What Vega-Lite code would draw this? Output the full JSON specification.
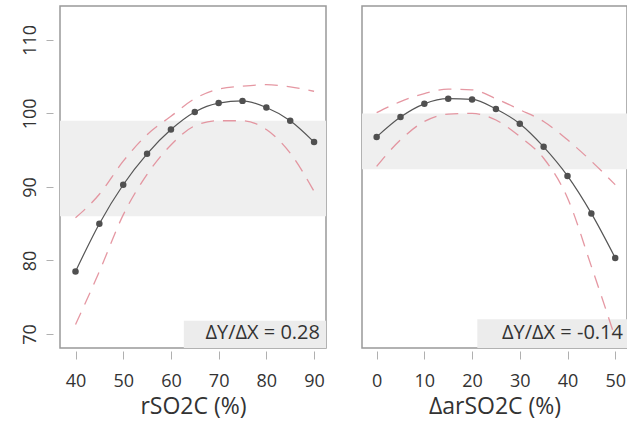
{
  "$schema": "https://vega.github.io/schema/vega-lite/v6.json",
  "padding": {"left": 20, "top": 5, "right": 0, "bottom": 0},
  "background": "white",
  "spacing": 34,
  "config": {
    "view": {"stroke": "#999999", "strokeWidth": 1.5},
    "axis": {
      "domain": false,
      "grid": false,
      "tickColor": "#b0b0b0",
      "tickWidth": 1,
      "labelColor": "#333333",
      "labelFont": "Open Sans",
      "labelFontSize": 18,
      "titleFont": "Open Sans",
      "titleFontSize": 23,
      "titleFontWeight": "normal",
      "titleColor": "#333333"
    }
  },
  "hconcat": [
    {
      "width": 266,
      "height": 342,
      "data": {"values": [
        {"x": 40, "y": 78.5, "lo": 71.3, "hi": 85.8},
        {"x": 45, "y": 85.0, "lo": 78.5, "hi": 89.0},
        {"x": 50, "y": 90.3, "lo": 86.2, "hi": 93.5},
        {"x": 55, "y": 94.5, "lo": 91.7, "hi": 97.1},
        {"x": 60, "y": 97.8, "lo": 95.7, "hi": 99.6},
        {"x": 65, "y": 100.2, "lo": 98.3, "hi": 102.0},
        {"x": 70, "y": 101.4, "lo": 99.0, "hi": 103.3},
        {"x": 75, "y": 101.7, "lo": 99.0, "hi": 103.7},
        {"x": 80, "y": 100.8, "lo": 97.8, "hi": 103.9},
        {"x": 85, "y": 99.0, "lo": 94.6, "hi": 103.6},
        {"x": 90, "y": 96.1, "lo": 89.4, "hi": 103.0}
      ]},
      "layer": [
        {
          "data": {"values": [{"bandLo": 86, "bandHi": 99, "bx1": 36.75, "bx2": 92.5}]},
          "mark": {"type": "rect", "color": "#efefef"},
          "encoding": {
            "x": {"field": "bx1", "type": "quantitative", "scale": {"domain": [36.75, 92.5], "nice": false, "zero": false},
              "axis": {"title": "rSO2C (%)", "values": [40, 50, 60, 70, 80, 90], "offset": 3, "tickSize": 8, "labelPadding": 13, "titlePadding": 5}},
            "x2": {"field": "bx2"},
            "y": {"field": "bandLo", "type": "quantitative", "scale": {"domain": [68.1, 114.6], "nice": false, "zero": false},
              "axis": {"title": null, "values": [70, 80, 90, 100, 110], "offset": 7, "tickSize": 7, "labelAngle": -90, "labelAlign": "center", "labelBaseline": "alphabetic", "labelPadding": 11}},
            "y2": {"field": "bandHi"}
          }
        },
        {
          "data": {"values": [{"ax1": 62.7, "ax2": 92.5, "ay1": 68.1, "ay2": 71.8}]},
          "mark": {"type": "rect", "color": "#ececec"},
          "encoding": {
            "x": {"field": "ax1", "type": "quantitative", "title": "rSO2C (%)"},
            "x2": {"field": "ax2"},
            "y": {"field": "ay1", "type": "quantitative", "title": null},
            "y2": {"field": "ay2"}
          }
        },
        {
          "mark": {"type": "line", "color": "#e08592", "strokeDash": [13, 9], "strokeWidth": 1.3, "interpolate": "monotone", "opacity": 0.85},
          "encoding": {
            "x": {"field": "x", "type": "quantitative", "title": "rSO2C (%)"},
            "y": {"field": "hi", "type": "quantitative", "title": null}
          }
        },
        {
          "mark": {"type": "line", "color": "#e08592", "strokeDash": [13, 9], "strokeWidth": 1.3, "interpolate": "monotone", "opacity": 0.85},
          "encoding": {
            "x": {"field": "x", "type": "quantitative", "title": "rSO2C (%)"},
            "y": {"field": "lo", "type": "quantitative", "title": null}
          }
        },
        {
          "mark": {"type": "line", "color": "#555555", "strokeWidth": 1.2, "interpolate": "monotone"},
          "encoding": {
            "x": {"field": "x", "type": "quantitative", "title": "rSO2C (%)"},
            "y": {"field": "y", "type": "quantitative", "title": null}
          }
        },
        {
          "mark": {"type": "point", "filled": true, "color": "#505050", "size": 42, "opacity": 1},
          "encoding": {
            "x": {"field": "x", "type": "quantitative", "title": "rSO2C (%)"},
            "y": {"field": "y", "type": "quantitative", "title": null}
          }
        },
        {
          "data": {"values": [{"label": "ΔY/ΔX = 0.28", "tx": 92.5, "ty": 69.3}]},
          "mark": {"type": "text", "align": "right", "baseline": "alphabetic", "dx": -6, "fontSize": 20, "font": "Open Sans", "color": "#333333"},
          "encoding": {
            "x": {"field": "tx", "type": "quantitative", "title": "rSO2C (%)"},
            "y": {"field": "ty", "type": "quantitative", "title": null},
            "text": {"field": "label", "type": "nominal"}
          }
        }
      ]
    },
    {
      "width": 265,
      "height": 342,
      "data": {"values": [
        {"x": 0, "y": 96.8, "hi": 100.1, "lo": 92.8},
        {"x": 5, "y": 99.5, "hi": 101.6, "lo": 96.4},
        {"x": 10, "y": 101.3, "hi": 102.7, "lo": 98.9},
        {"x": 15, "y": 102.0, "hi": 103.3, "lo": 99.9},
        {"x": 20, "y": 101.9, "hi": 103.2, "lo": 100.0},
        {"x": 25, "y": 100.6, "hi": 102.0, "lo": 99.1},
        {"x": 30, "y": 98.6, "hi": 100.5, "lo": 96.85},
        {"x": 35, "y": 95.45, "hi": 98.9, "lo": 93.9},
        {"x": 40, "y": 91.5, "hi": 96.4, "lo": 88.5},
        {"x": 45, "y": 86.4, "hi": 93.5, "lo": 79.2},
        {"x": 50, "y": 80.35, "hi": 90.3, "lo": 69.5}
      ]},
      "layer": [
        {
          "data": {"values": [{"bandLo": 92.4, "bandHi": 100, "bx1": -3.07, "bx2": 52.47}]},
          "mark": {"type": "rect", "color": "#efefef"},
          "encoding": {
            "x": {"field": "bx1", "type": "quantitative", "scale": {"domain": [-3.07, 52.47], "nice": false, "zero": false},
              "axis": {"title": "ΔarSO2C (%)", "values": [0, 10, 20, 30, 40, 50], "offset": 3, "tickSize": 8, "labelPadding": 13, "titlePadding": 5}},
            "x2": {"field": "bx2"},
            "y": {"field": "bandLo", "type": "quantitative", "scale": {"domain": [68.1, 114.6], "nice": false, "zero": false}, "axis": null},
            "y2": {"field": "bandHi"}
          }
        },
        {
          "data": {"values": [{"ax1": 21.1, "ax2": 52.47, "ay1": 68.1, "ay2": 72.0}]},
          "mark": {"type": "rect", "color": "#ececec"},
          "encoding": {
            "x": {"field": "ax1", "type": "quantitative", "title": "ΔarSO2C (%)"},
            "x2": {"field": "ax2"},
            "y": {"field": "ay1", "type": "quantitative", "axis": null},
            "y2": {"field": "ay2"}
          }
        },
        {
          "mark": {"type": "line", "color": "#e08592", "strokeDash": [13, 9], "strokeWidth": 1.3, "interpolate": "monotone", "opacity": 0.85},
          "encoding": {
            "x": {"field": "x", "type": "quantitative", "title": "ΔarSO2C (%)"},
            "y": {"field": "hi", "type": "quantitative", "axis": null}
          }
        },
        {
          "mark": {"type": "line", "color": "#e08592", "strokeDash": [13, 9], "strokeWidth": 1.3, "interpolate": "monotone", "opacity": 0.85},
          "encoding": {
            "x": {"field": "x", "type": "quantitative", "title": "ΔarSO2C (%)"},
            "y": {"field": "lo", "type": "quantitative", "axis": null}
          }
        },
        {
          "mark": {"type": "line", "color": "#555555", "strokeWidth": 1.2, "interpolate": "monotone"},
          "encoding": {
            "x": {"field": "x", "type": "quantitative", "title": "ΔarSO2C (%)"},
            "y": {"field": "y", "type": "quantitative", "axis": null}
          }
        },
        {
          "mark": {"type": "point", "filled": true, "color": "#505050", "size": 42, "opacity": 1},
          "encoding": {
            "x": {"field": "x", "type": "quantitative", "title": "ΔarSO2C (%)"},
            "y": {"field": "y", "type": "quantitative", "axis": null}
          }
        },
        {
          "data": {"values": [{"label": "ΔY/ΔX = -0.14", "tx": 52.47, "ty": 69.3}]},
          "mark": {"type": "text", "align": "right", "baseline": "alphabetic", "dx": -4, "fontSize": 20, "font": "Open Sans", "color": "#333333"},
          "encoding": {
            "x": {"field": "tx", "type": "quantitative", "title": "ΔarSO2C (%)"},
            "y": {"field": "ty", "type": "quantitative", "axis": null},
            "text": {"field": "label", "type": "nominal"}
          }
        }
      ]
    }
  ]
}
